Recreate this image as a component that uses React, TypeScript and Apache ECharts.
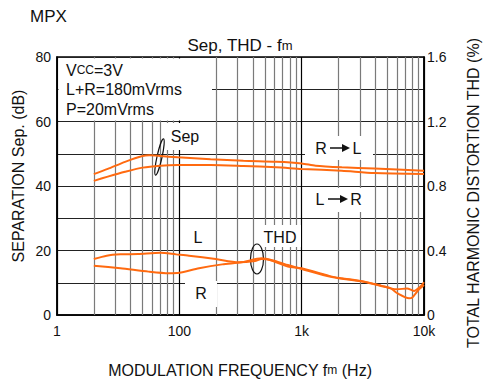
import React, { useEffect, useRef } from 'react';
import * as echarts from 'echarts';

// Separation curves (dB, left axis)
const sepUpperFreq = [20, 26, 36, 50, 57, 70, 97, 180, 334, 620, 1000, 1300, 2130, 3930, 10000];
const sepUpper = [43.7, 45.3, 47.5, 49.3, 49.5, 49.3, 48.9, 48.3, 47.8, 47.5, 47.0, 46.3, 45.8, 45.4, 44.7];
const sepLowerFreq = [20, 26, 36, 50, 70, 97, 180, 334, 620, 1000, 2130, 3930, 10000];
const sepLower = [41.6, 42.9, 44.4, 45.7, 46.3, 46.5, 46.5, 46.2, 45.8, 45.3, 44.7, 44.0, 43.7];

// THD curves (%, right axis)
const thdLFreq = [20, 25.5, 33, 46, 70, 94, 120, 198, 305, 415, 470, 550, 771, 1000, 1770, 2130, 3270, 4450, 5350, 6050, 7270, 8270, 9350, 10000];
const thdL = [0.347, 0.368, 0.376, 0.378, 0.386, 0.376, 0.368, 0.347, 0.327, 0.335, 0.347, 0.341, 0.3, 0.29, 0.238, 0.228, 0.207, 0.182, 0.165, 0.159, 0.165, 0.149, 0.176, 0.203];
const thdRFreq = [20, 33, 56, 82, 100, 145, 224, 324, 470, 603, 771, 1000, 1770, 3270, 4450, 5350, 6050, 7550, 7980, 9000, 10000];
const thdR = [0.306, 0.29, 0.269, 0.259, 0.262, 0.29, 0.314, 0.327, 0.352, 0.335, 0.31, 0.285, 0.235, 0.205, 0.18, 0.165, 0.135, 0.104, 0.107, 0.155, 0.186];

// Axis ticks / labels
const xTickLabels: Record<number, string> = { 10: '1', 100: '100', 1000: '1k', 10000: '10k' };
const minorGridFreqs = [20, 30, 40, 50, 60, 70, 80, 90, 200, 300, 400, 500, 600, 700, 800, 900, 2000, 3000, 4000, 5000, 6000, 7000, 8000, 9000];
const conditionLines = ['V{s|CC}=3V', 'L+R=180mVrms', 'P=20mVrms'];

const FONT = '"Liberation Sans", Arial, sans-serif';
const ORANGE = '#ff6a10';
const TXT = '#111';

function zip(xs: number[], ys: number[]) {
  return xs.map((x, i) => [x, ys[i]]);
}

function txt(text: string, x: number, y: number, size = 16, align = 'center', extra: any = {}) {
  return {
    type: 'text',
    z: 7,
    x,
    y,
    ...extra,
    style: {
      text,
      fill: TXT,
      fontSize: size,
      fontFamily: FONT,
      textAlign: align,
      textVerticalAlign: 'middle',
      rich: { s: { fontSize: Math.round(size * 0.78), fontFamily: FONT, fill: TXT } },
    },
  };
}

function mask(x: number, y: number, w: number, h: number) {
  return { type: 'rect', z: 6, shape: { x, y, width: w, height: h }, style: { fill: '#fff' } };
}

function arrow(x1: number, x2: number, y: number) {
  return [
    { type: 'line', z: 8, shape: { x1, y1: y, x2: x2 - 7, y2: y }, style: { stroke: '#111', lineWidth: 1.5 } },
    {
      type: 'polygon',
      z: 8,
      shape: { points: [[x2 - 8, y - 4], [x2, y], [x2 - 8, y + 4]] },
      style: { fill: '#111' },
    },
  ];
}

export default function App() {
  const ref = useRef<HTMLDivElement>(null);
  useEffect(() => {
    if (!ref.current) return;
    const chart = echarts.init(ref.current, undefined, { renderer: 'svg' });
    const lineSeries = (data: number[][], yAxisIndex: number) => ({
      type: 'line',
      data,
      yAxisIndex,
      z: 10,
      smooth: 0.25,
      showSymbol: false,
      symbol: 'none',
      lineStyle: { color: ORANGE, width: 2 },
      silent: true,
    });
    chart.setOption({
      animation: false,
      backgroundColor: '#fff',
      grid: { left: 57, right: 60, top: 57, bottom: 71, show: true, borderColor: '#000', borderWidth: 1.5 },
      xAxis: {
        type: 'log',
        logBase: 10,
        min: 10,
        max: 10000,
        axisLine: { show: true, lineStyle: { color: '#000', width: 1.5 } },
        axisTick: { show: false },
        splitLine: { show: true, lineStyle: { color: '#000', width: 1.2 } },
        axisLabel: {
          color: TXT,
          fontSize: 14,
          fontFamily: FONT,
          margin: 9,
          formatter: (v: number) => xTickLabels[Math.round(v)] ?? '',
        },
      },
      yAxis: [
        {
          type: 'value',
          min: 0,
          max: 80,
          interval: 10,
          axisLine: { show: true, lineStyle: { color: '#000', width: 1.5 } },
          axisTick: { show: false },
          splitLine: { show: true, lineStyle: { color: '#222', width: 1.2 } },
          axisLabel: {
            color: TXT,
            fontSize: 14,
            fontFamily: FONT,
            margin: 6,
            formatter: (v: number) => (Math.round(v) % 20 === 0 ? String(Math.round(v)) : ''),
          },
        },
        {
          type: 'value',
          min: 0,
          max: 1.6,
          interval: 0.4,
          position: 'right',
          axisLine: { show: true, lineStyle: { color: '#000', width: 1.5 } },
          axisTick: { show: false },
          splitLine: { show: false },
          axisLabel: {
            color: TXT,
            fontSize: 14,
            fontFamily: FONT,
            margin: 3,
            formatter: (v: number) => (v === 0 ? '0' : v.toFixed(1)),
          },
        },
      ],
      series: [
        {
          type: 'line',
          data: [[10, 0]],
          symbol: 'none',
          lineStyle: { width: 0 },
          silent: true,
          z: 1,
          markLine: {
            silent: true,
            symbol: 'none',
            z: 1,
            label: { show: false },
            lineStyle: { color: '#7a7a7a', width: 1.2, type: 'solid' },
            data: minorGridFreqs.map((f) => ({ xAxis: f })),
          },
        },
        lineSeries(zip(sepUpperFreq, sepUpper), 0),
        lineSeries(zip(sepLowerFreq, sepLower), 0),
        lineSeries(zip(thdLFreq, thdL), 1),
        lineSeries(zip(thdRFreq, thdR), 1),
      ],
      graphic: [
        mask(58.5, 58.5, 153.5, 62),
        mask(166, 123, 35, 27),
        mask(305, 136, 68, 24),
        mask(310, 188, 60, 24),
        mask(186, 227, 28, 21),
        mask(185, 281, 32, 26),
        mask(261, 225, 40, 22),
        txt('MPX', 30, 16, 17, 'left'),
        txt('Sep, THD - f{s|m}', 240, 45, 17),
        txt(conditionLines[0], 66, 70, 16, 'left'),
        txt(conditionLines[1], 66, 89, 16, 'left'),
        txt(conditionLines[2], 66, 109, 16, 'left'),
        txt('Sep', 185, 136, 16),
        txt('R', 321, 148, 16),
        ...arrow(330, 350, 148),
        txt('L', 357, 148, 16),
        txt('L', 320, 199, 16),
        ...arrow(328, 348, 199),
        txt('R', 356, 199, 16),
        txt('L', 198, 237, 16),
        txt('R', 201, 293, 16),
        txt('THD', 280, 237, 16),
        txt('SEPARATION Sep. (dB)', 18, 176, 16, 'center', { rotation: Math.PI / 2 }),
        txt('TOTAL HARMONIC DISTORTION THD (%)', 473, 193, 16, 'center', { rotation: Math.PI / 2 }),
        txt('MODULATION FREQUENCY f{s|m} (Hz)', 240, 370, 16),
        {
          type: 'ellipse',
          z: 8,
          x: 159.5,
          y: 157,
          rotation: -0.22,
          shape: { cx: 0, cy: 0, rx: 2.5, ry: 18.5 },
          style: { stroke: '#111', fill: 'none', lineWidth: 1.2 },
        },
        {
          type: 'ellipse',
          z: 8,
          shape: { cx: 257, cy: 259, rx: 6.5, ry: 15 },
          style: { stroke: '#111', fill: 'none', lineWidth: 1.2 },
        },
      ],
    });
    return () => chart.dispose();
  }, []);
  return <div ref={ref} style={{ position: 'absolute', left: 0, top: 0, width: 484, height: 386 }} />;
}
